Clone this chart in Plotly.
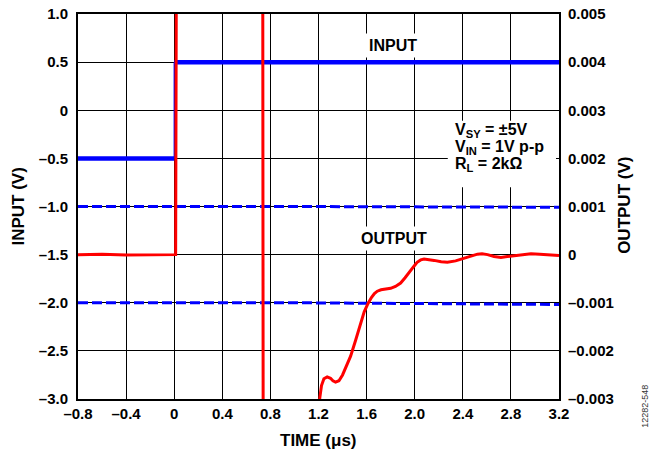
import plotly.graph_objects as go

# ---- data ----
t_in = [-0.8, 0.0, None, 0.0, 3.2]
v_in = [-0.5, -0.5, None, 0.5, 0.5]
t_in_edge = [0.0, 0.0]
v_in_edge = [-0.5, 0.5]

t_band = [-0.8, 1.0, 3.2]
band_hi = [-1.0, -1.0, -1.008]
band_lo = [-2.0, -2.0, -2.018]

t_out = [-0.8, -0.6, -0.4, -0.2, 0.0, 0.012, 0.022, 0.735, 0.742, 1.19, 1.211, 1.225,
         1.245, 1.272, 1.30, 1.32, 1.342, 1.37, 1.40, 1.43, 1.467, 1.51, 1.55, 1.58,
         1.611, 1.64, 1.665, 1.689, 1.72, 1.76, 1.8, 1.84, 1.883, 1.92, 1.96, 1.994,
         2.02, 2.05, 2.078, 2.12, 2.161, 2.22, 2.272, 2.34, 2.411, 2.47, 2.522, 2.56,
         2.606, 2.66, 2.717, 2.77, 2.828, 2.9, 2.967, 3.04, 3.106, 3.2]
v_out = [0.0, 0.00001, -0.00001, 0.0, 0.0, 0.0, 0.01, 0.01, -0.01, -0.0036, -0.00297,
         -0.00272, -0.00258, -0.00254, -0.00257, -0.00262, -0.00265, -0.00262, -0.0025,
         -0.00234, -0.00211, -0.00177, -0.00141, -0.00119, -0.00102, -0.00089, -0.00081,
         -0.00076, -0.00073, -0.00072, -0.00070, -0.00066, -0.00059, -0.00048, -0.00034,
         -0.00024, -0.00016, -0.00011, -0.00009, -0.0001, -0.00012, -0.00015, -0.00016,
         -0.00013, -0.00007, -0.00002, 0.00001, 0.00002, 0.0, -0.00004, -0.00006,
         -0.00004, -0.00002, 0.0, 0.00002, 0.00001, 0.0, -0.00002]

x_ticks = [-0.8, -0.4, 0, 0.4, 0.8, 1.2, 1.6, 2.0, 2.4, 2.8, 3.2]
x_ticktext = ["–0.8", "–0.4", "0", "0.4", "0.8", "1.2", "1.6", "2.0", "2.4", "2.8", "3.2"]
y_ticks = [1.0, 0.5, 0, -0.5, -1.0, -1.5, -2.0, -2.5, -3.0]
y_ticktext = ["1.0", "0.5", "0", "–0.5", "–1.0", "–1.5", "–2.0", "–2.5", "–3.0"]
y2_ticks = [0.005, 0.004, 0.003, 0.002, 0.001, 0, -0.001, -0.002, -0.003]
y2_ticktext = ["0.005", "0.004", "0.003", "0.002", "0.001", "0", "–0.001", "–0.002", "–0.003"]

cond_lines = ["V<sub>SY</sub> = ±5V", "V<sub>IN</sub> = 1V p-p", "R<sub>L</sub> = 2kΩ"]
cond_y = [-0.215, -0.39, -0.565]

FONT = "Liberation Sans, Arial, sans-serif"
BLUE = "#0000FF"
RED = "#FF0000"

fig = go.Figure()
fig.add_trace(go.Scatter(x=t_band, y=band_hi, mode="lines",
                         line=dict(color=BLUE, width=3, dash="10px,4px"), hoverinfo="skip"))
fig.add_trace(go.Scatter(x=t_band, y=band_lo, mode="lines",
                         line=dict(color=BLUE, width=3, dash="10px,4px"), hoverinfo="skip"))
fig.add_trace(go.Scatter(x=t_in, y=v_in, mode="lines", connectgaps=False,
                         line=dict(color=BLUE, width=4.5)))
fig.add_trace(go.Scatter(x=t_in_edge, y=v_in_edge, mode="lines",
                         line=dict(color=BLUE, width=1.2)))
fig.add_trace(go.Scatter(x=t_out, y=v_out, mode="lines", yaxis="y2",
                         line=dict(color=RED, width=3)))

# white backing box behind the test-condition text (hides grid lines)
fig.add_shape(type="rect", xref="x", yref="y", x0=2.275, x1=3.175, y0=-0.80, y1=-0.11,
              fillcolor="white", line=dict(width=0), layer="between")

ann_font = dict(family=FONT, size=16, color="black")
title_font = dict(family=FONT, size=17, color="black")
annotations = [
    dict(x=1.817, y=0.668, xref="x", yref="y", text="<b>INPUT</b>", showarrow=False,
         font=ann_font, bgcolor="white", borderpad=3),
    dict(x=1.825, y=-1.332, xref="x", yref="y", text="<b>OUTPUT</b>", showarrow=False,
         font=ann_font, bgcolor="white", borderpad=3),
    dict(x=-0.1247, y=0.5, xref="paper", yref="paper", text="<b>INPUT (V)</b>",
         xanchor="center", yanchor="middle",
         textangle=-90, showarrow=False, font=title_font),
    dict(x=1.137, y=0.504, xref="paper", yref="paper", text="<b>OUTPUT (V)</b>",
         xanchor="center", yanchor="middle",
         textangle=-90, showarrow=False, font=title_font),
    dict(x=0.499, y=-0.1065, xref="paper", yref="paper", text="<b>TIME (μs)</b>",
         xanchor="center", yanchor="middle", showarrow=False, font=title_font),
    dict(x=1.179, y=-0.02, xref="paper", yref="paper", text="12282-548",
         xanchor="center", yanchor="middle",
         textangle=-90, showarrow=False, font=dict(family=FONT, size=9, color="#333333")),
]
for txt, yy in zip(cond_lines, cond_y):
    annotations.append(dict(x=2.325, y=yy, xref="x", yref="y", xanchor="left", yanchor="middle",
                            align="left", showarrow=False, borderpad=0,
                            font=ann_font, text="<b>" + txt + "</b>"))

tickfont = dict(family=FONT, size=15, color="black", weight="bold")
# page body adds an 8px offset, so the figure is sized 8px smaller in each direction
fig.update_layout(
    width=650, height=444,
    margin=dict(l=70, r=99, t=6, b=53, autoexpand=False),
    paper_bgcolor="white", plot_bgcolor="white",
    showlegend=False,
    annotations=annotations,
    xaxis=dict(range=[-0.8, 3.2], tickvals=x_ticks, ticktext=x_ticktext, automargin=False,
               showgrid=True, gridcolor="black", gridwidth=1, zeroline=False,
               showline=True, linecolor="black", linewidth=2, mirror=True,
               ticks="", tickfont=tickfont, ticklabelstandoff=0, ticklabeloverflow="allow"),
    yaxis=dict(range=[-3.0, 1.0], tickvals=y_ticks, ticktext=y_ticktext, automargin=False,
               showgrid=True, gridcolor="black", gridwidth=1, zeroline=False,
               showline=True, linecolor="black", linewidth=2, mirror=True,
               ticks="", tickfont=tickfont, ticklabelstandoff=5, ticklabeloverflow="allow"),
    yaxis2=dict(range=[-0.003, 0.005], tickvals=y2_ticks, ticktext=y2_ticktext,
                overlaying="y", side="right", showgrid=False, zeroline=False, automargin=False,
                showline=False, ticks="", tickfont=tickfont, ticklabelstandoff=8,
                ticklabeloverflow="allow"),
)

fig.write_html("out.html")
